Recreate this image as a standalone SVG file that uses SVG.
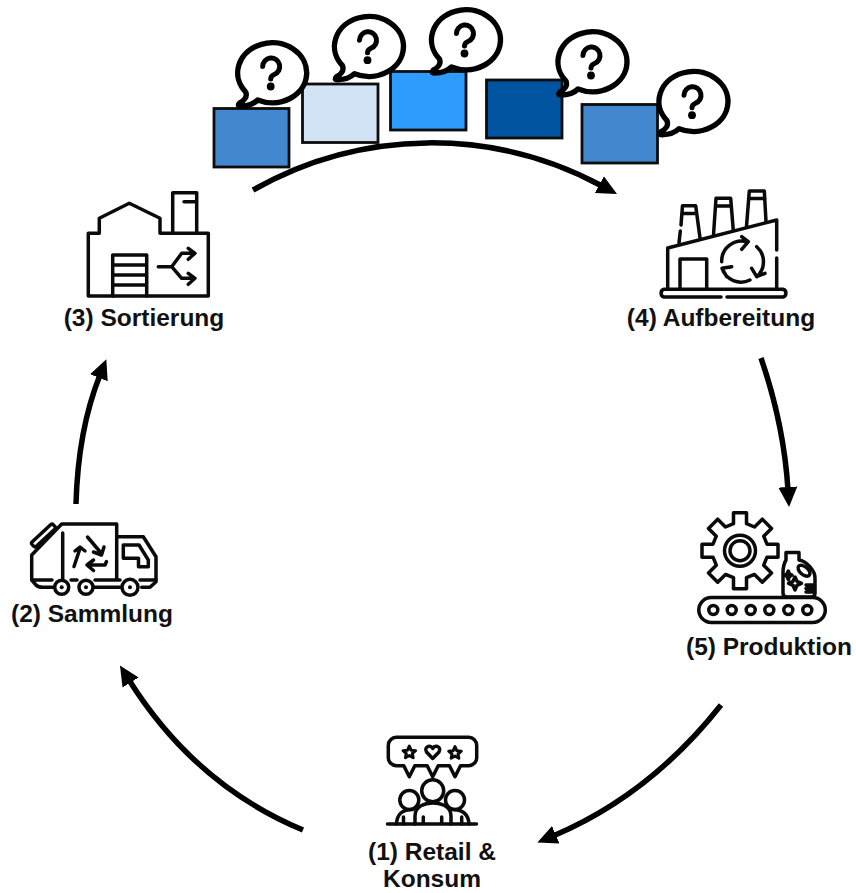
<svg xmlns="http://www.w3.org/2000/svg" xmlns:xlink="http://www.w3.org/1999/xlink" width="856" height="893" viewBox="0 0 856 893">
<style>
.lbl{font-family:"Liberation Sans",Arial,sans-serif;font-weight:700;font-size:24.500px;fill:#111;text-anchor:middle}
.ic{fill:none;stroke:#0a0a0a;stroke-width:3.500;stroke-linecap:round;stroke-linejoin:round}
.icw{fill:#fff;stroke:#0a0a0a;stroke-width:3.500;stroke-linecap:round;stroke-linejoin:round}
.arc{fill:none;stroke:#000;stroke-width:5.500;marker-end:url(#ah)}
.sq{stroke:#0d0d0d;stroke-width:2.800}
</style>
<defs>
<marker id="ah" markerUnits="userSpaceOnUse" markerWidth="24" markerHeight="24" refX="3" refY="12" orient="auto"><path d="M0 2.500L20 12L0 21.500Z" fill="#000"/></marker>
<g id="bub">
<path d="M-13 27A34.500 30 0 1 0-25 19C-23 24-27 28-31 30Q-34 33-30 33C-24 33-18 32-13 27Z" fill="#fff" stroke="#000" stroke-width="5.400" stroke-linejoin="round"/>
<path d="M-8-6.500A8.500 8.500 0 1 1 3.500 1.500Q0 3 0 6" fill="none" stroke="#000" stroke-width="5" stroke-linecap="round"/>
<circle cx="0" cy="13.500" r="3.900" fill="#000"/>
</g>
<path id="star" d="M0-6.500L1.900-2.200L6.300-1.800L3 1L3.900 5.300L0 3L-3.900 5.300L-3 1L-6.300-1.800L-1.900-2.200Z" fill="none" stroke="#0a0a0a" stroke-width="3" stroke-linejoin="round"/>
</defs>

<g id="connectors">
<path class="arc" d="M253 190A360 360 0 0 1 602 186"/>
<path class="arc" d="M761 358Q784 425 788 490"/>
<path class="arc" d="M721 705Q650 795 553 836"/>
<path class="arc" d="M303 830Q195 785 129 680"/>
<path class="arc" d="M76 504Q78 430 100 375"/>
</g>

<g id="materials">
<rect class="sq" x="214" y="108.500" width="75" height="58.500" fill="#4388cf"/>
<rect class="sq" x="302.500" y="84" width="75.500" height="58.500" fill="#d2e3f5"/>
<rect class="sq" x="390.500" y="71.500" width="75.500" height="58.500" fill="#2e9bff"/>
<rect class="sq" x="486.500" y="80" width="75.500" height="58" fill="#00549f"/>
<rect class="sq" x="582" y="104.500" width="75.500" height="58.500" fill="#4388cf"/>
<use xlink:href="#bub" href="#bub" x="270.700" y="73"/>
<use xlink:href="#bub" href="#bub" x="367.500" y="46.700"/>
<use xlink:href="#bub" href="#bub" x="464.500" y="40"/>
<use xlink:href="#bub" href="#bub" x="591" y="62"/>
<use xlink:href="#bub" href="#bub" x="692" y="101.700"/>
</g>

<g id="node-3-sortierung">
<path class="ic" d="M88.300 296V233.300H99.300V218.300L129.300 203.300L160 218.300V233.300H208.300V296Z"/>
<path class="ic" d="M172.700 233.300V192.700H196.700V233.300M184 201.700H196.700"/>
<path class="ic" d="M112.700 296V255H146.700V296M112.700 265H146.700M112.700 275H146.700M112.700 285H146.700"/>
<path class="ic" d="M158.300 266.700H171.700L181.700 253.300H195M171.700 266.700L181.700 278.300H195M188.300 248.300L195 253.300L188.300 259.300M188.300 273.300L195 278.300L188.300 284.300"/>
<text class="lbl" x="144" y="325.500">(3) Sortierung</text>
</g>

<g id="node-4-aufbereitung">
<path class="ic" d="M721 297H664A4 4 0 0 1 664 289.300H783A4 4 0 0 1 783 297H727"/>
<path class="ic" d="M667.700 288V248L776.700 220V250M776.700 258V288"/>
<path class="ic" d="M680 288V259H706.700V288"/>
<path class="ic" d="M679 243L680.300 231M681 225L682.500 205.700H695.700L700 238M682 213.500H696"/>
<path class="ic" d="M713.500 235L716 198.300H730.700L733.300 230.500M715.500 206H731"/>
<path class="ic" d="M746.500 226.500L749.300 191H764.300L766 221.500M748.500 198.500H765"/>
<path class="ic" d="M721.700 261.700A20 20 0 0 1 747 241.700M741.700 236.700L748.300 241.700L741.700 249.300"/>
<path class="ic" d="M756.700 246.700A20 20 0 0 1 756.700 276.700M751.700 268.300L756.700 276.700L765 273.300"/>
<path class="ic" d="M750 280A20 20 0 0 1 722 268.300M731.700 266.700L722 268.300L726.700 276.700"/>
<text class="lbl" x="721" y="325.500">(4) Aufbereitung</text>
</g>

<g id="node-5-produktion">
<path class="ic" transform="translate(740 550.700)" d="M-6.500-27V-38H6.500V-27L14.500-23.700L22.300-31.500L31.500-22.300L23.700-14.500L27-6.500H38V6.500H27L23.700 14.500L31.500 22.300L22.300 31.500L14.500 23.700L6.500 27V38H-6.500V27L-14.500 23.700L-22.300 31.500L-31.500 22.300L-23.700 14.500L-27 6.500H-38V-6.500H-27L-23.700-14.500L-31.500-22.300L-22.300-31.500L-14.500-23.700Z"/>
<circle class="ic" cx="740" cy="550.700" r="15.500"/>
<circle class="ic" cx="740" cy="550.700" r="10" stroke-width="2.400"/>
<path class="icw" stroke-width="2.800" d="M786 560V552.500H799V560C806 561 815 570 815 578V593Q815 597 811 597H787Q783 597 783 593V573Q783 565 786 560Z"/>
<ellipse class="ic" stroke-width="2.400" cx="804" cy="570.700" rx="7" ry="4" transform="rotate(40 804 570.700)"/>
<path class="ic" stroke-width="2" d="M795 577L797 581.300L801.500 583.300L797 585.300L795 590L793 585.300L788.500 583.300L793 581.300ZM788.300 571L789.500 574L792 575.200L789.500 576.400L788.300 579.500L787 576.400L785 575.200L787 574ZM806 585H813M806 588.500H813M806 592H813"/>
<rect class="icw" x="698.800" y="597.500" width="126.500" height="25" rx="12.500"/>
<g class="ic"><circle cx="713.300" cy="610" r="4.500"/><circle cx="731.700" cy="610" r="4.500"/><circle cx="750.700" cy="610" r="4.500"/><circle cx="769.300" cy="610" r="4.500"/><circle cx="788.300" cy="610" r="4.500"/><circle cx="807.300" cy="610" r="4.500"/></g>
<text class="lbl" x="769" y="654.500">(5) Produktion</text>
</g>

<g id="node-1-retail">
<path class="ic" d="M396.500 737.300H468.500A8 8 0 0 1 476.700 745.500V757.500A8 8 0 0 1 468.500 765.700H460.500L455 776.700L449.500 765.700H438.200L432.700 776.700L427.200 765.700H414.800L409.300 776.700L403.800 765.700H396.500A8 8 0 0 1 388.300 757.500V745.500A8 8 0 0 1 396.500 737.300Z"/>
<use xlink:href="#star" href="#star" x="409.300" y="752.500"/>
<use xlink:href="#star" href="#star" x="455" y="753"/>
<path class="ic" stroke-width="2.800" d="M432.700 758.500L426.500 752Q424.500 748 428 746.500Q431 745.500 432.700 748.500Q434.500 745.500 437.500 746.500Q441 748 439 752Z"/>
<circle class="ic" cx="409.300" cy="800" r="9.500"/>
<circle class="ic" cx="455" cy="800" r="9.500"/>
<path class="ic" d="M396.500 824C397 814 402 809.500 413 809.500M469 824C468.500 814 463 809.500 452 809.500M403.500 824V817M461.700 824V817"/>
<circle class="icw" cx="432.700" cy="790.700" r="11"/>
<path class="icw" d="M415 824V816C415 806 425 803 432.700 803C441 803 451 806 451 816V824"/>
<path class="ic" d="M387.500 824H476.500M423.300 824V817M441.700 824V817"/>
<text class="lbl" x="432" y="859.500">(1) Retail &amp;</text>
<text class="lbl" x="432" y="887">Konsum</text>
</g>

<g id="node-2-sammlung">
<path class="ic" d="M61.700 587.300H43Q38 587.300 36 585L31.700 580V555L61.700 524H116.700V578.300M32 580H52M71 580H77M95 580H120M140 580H156"/>
<path class="ic" d="M62.700 533V578.300"/>
<path class="ic" d="M116.700 536.700H143.300L156 556.700V581.700L150 587.300H141.700M92 587.300H121.700"/>
<path class="ic" d="M123.300 545H139L148.300 560V566.700H138.500V558.300H123.300Z"/>
<rect class="ic" x="29" y="532.500" width="29" height="6" rx="2" transform="rotate(-43 43.500 535.500)"/>
<path class="ic" d="M74 566.500L80 548.500M75 551L80 547L85 551"/>
<path class="ic" d="M87.500 537L101.500 553.500M104 547L101.500 555L93.500 552"/>
<path class="ic" d="M106.500 561.500L105 565H87M93.500 560L87 565L93.500 570.500"/>
<g class="icw"><circle cx="61.700" cy="587.300" r="7"/><circle cx="86" cy="587.300" r="7"/><circle cx="130" cy="587.300" r="8"/></g>
<circle cx="61.700" cy="587.300" r="2" fill="#0a0a0a"/><circle cx="86" cy="587.300" r="2" fill="#0a0a0a"/><circle cx="130" cy="587.300" r="2" fill="#0a0a0a"/>
<text class="lbl" x="92" y="621.500">(2) Sammlung</text>
</g>
</svg>
